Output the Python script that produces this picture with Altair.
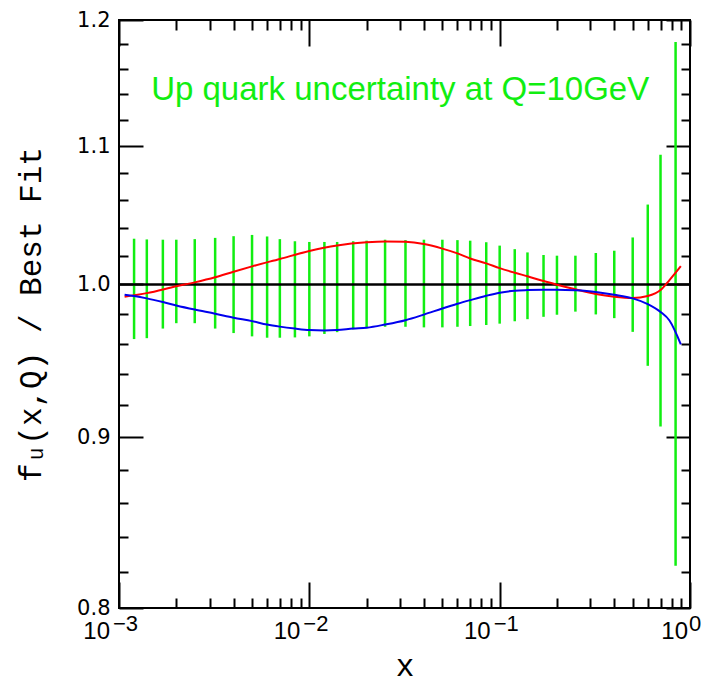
import altair as alt
import pandas as pd

# ---- data ----
bar_x = [0.0012, 0.0014, 0.0017, 0.002, 0.0025, 0.0032, 0.004, 0.005, 0.006, 0.007,
         0.0084, 0.01, 0.012, 0.014, 0.017, 0.02, 0.025, 0.032, 0.04, 0.05,
         0.06, 0.07, 0.085, 0.1, 0.12, 0.14, 0.17, 0.2, 0.25, 0.32,
         0.4, 0.5, 0.6, 0.7, 0.84]
bar_hi = [1.032, 1.0315, 1.0313, 1.0313, 1.0317, 1.0326, 1.0338, 1.0347, 1.0336, 1.0317,
          1.0302, 1.0297, 1.0297, 1.0297, 1.0302, 1.0306, 1.0313, 1.031, 1.0313, 1.0313,
          1.031, 1.0306, 1.0295, 1.0271, 1.0246, 1.0223, 1.0205, 1.020, 1.020, 1.0219,
          1.0235, 1.0329, 1.0566, 1.0935, 1.182]
bar_lo = [0.963, 0.9636, 0.970, 0.9736, 0.9736, 0.970, 0.967, 0.9648, 0.9639, 0.9639,
          0.9641, 0.9648, 0.9664, 0.9676, 0.9694, 0.9703, 0.9712, 0.9712, 0.9708, 0.9708,
          0.9712, 0.9717, 0.9724, 0.9733, 0.9749, 0.9763, 0.9779, 0.9793, 0.9814, 0.9795,
          0.977, 0.9678, 0.9454, 0.9067, 0.8236]

red_x = [0.00107, 0.0014, 0.002, 0.0025, 0.0032, 0.004, 0.005, 0.007, 0.01, 0.014,
         0.02, 0.025, 0.032, 0.04, 0.05, 0.06, 0.07, 0.085, 0.1, 0.12,
         0.14, 0.17, 0.2, 0.25, 0.32, 0.4, 0.5, 0.6, 0.7, 0.78, 0.895]
red_y = [0.9915, 0.994, 0.9987, 1.0014, 1.0049, 1.0088, 1.0125, 1.0177, 1.0233, 1.0272,
         1.0295, 1.0301, 1.0298, 1.0282, 1.0250, 1.0216, 1.018, 1.0146, 1.0113, 1.0081,
         1.0056, 1.0023, 0.9998, 0.9966, 0.9934, 0.9915, 0.9906, 0.992, 0.9961, 1.003, 1.0127]

blue_x = [0.00107, 0.0012, 0.0014, 0.0017, 0.002, 0.0025, 0.0032, 0.004, 0.005, 0.006,
          0.007, 0.0084, 0.01, 0.012, 0.014, 0.017, 0.02, 0.025, 0.032, 0.04,
          0.05, 0.06, 0.07, 0.085, 0.1, 0.12, 0.14, 0.17, 0.2, 0.25,
          0.32, 0.4, 0.5, 0.6, 0.7, 0.78, 0.895]
blue_y = [0.9929, 0.992, 0.9904, 0.9879, 0.9856, 0.9828, 0.980, 0.9773, 0.975, 0.9727,
          0.9713, 0.970, 0.969, 0.9687, 0.969, 0.970, 0.9706, 0.9727, 0.9756, 0.9794,
          0.9835, 0.9867, 0.9892, 0.9922, 0.9943, 0.9957, 0.9961, 0.9963, 0.9963, 0.9959,
          0.9948, 0.9929, 0.9904, 0.9865, 0.9812, 0.9754, 0.9595]

ref_y = [1.0]

x_major = [0.001, 0.01, 0.1, 1.0]
x_minor = [0.002, 0.003, 0.004, 0.005, 0.006, 0.007, 0.008, 0.009,
           0.02, 0.03, 0.04, 0.05, 0.06, 0.07, 0.08, 0.09,
           0.2, 0.3, 0.4, 0.5, 0.6, 0.7, 0.8, 0.9]
x_base = ["10", "10", "10", "10"]
x_exp = ["\u22123", "\u22122", "\u22121", "0"]
y_major = [0.8, 0.9, 1.0, 1.1, 1.2]
y_minor = [0.82, 0.84, 0.86, 0.88, 0.92, 0.94, 0.96, 0.98,
           1.02, 1.04, 1.06, 1.08, 1.12, 1.14, 1.16, 1.18]

note_text = ["Up quark uncertainty at Q=10GeV"]
note_x = [0.03]
note_y = [1.1434]

# ---- layout ----
W, H = 571, 588
GREEN = "#11ee11"
XMAJ, XMIN, YMAJ, YMIN = 26, 10, 24, 9
MONO = "Liberation Mono"

xs = alt.Scale(type="log", domain=[0.001, 1.0])
ys = alt.Scale(type="log", domain=[0.8, 1.2])


def ax(orient, values, size, **kw):
    return alt.Axis(orient=orient, values=values, tickSize=size, offset=-size,
                    domain=False, grid=False, ticks=True, tickColor="black",
                    tickWidth=2, **kw)


bars = pd.DataFrame({"x": bar_x, "lo": bar_lo, "hi": bar_hi})
red = pd.DataFrame({"x": red_x, "y": red_y})
blue = pd.DataFrame({"x": blue_x, "y": blue_y})
ref = pd.DataFrame({"y": ref_y})
note = pd.DataFrame({"x": note_x, "y": note_y, "t": note_text})
labs = pd.DataFrame({"v": x_major, "base": x_base, "exp": x_exp})

bar_layer = alt.Chart(bars).mark_rule(color=GREEN, strokeWidth=2.5).encode(
    x=alt.X("x:Q", scale=xs,
            axis=ax("bottom", x_major, XMAJ, labels=False, title="x",
                    titleFont=MONO, titleFontSize=31, titleFontWeight="normal",
                    titleColor="black", titleX=W / 2, titleY=(675 - 20) - (H - XMAJ),
                    titleAlign="center", titleBaseline="alphabetic")),
    y=alt.Y("lo:Q", scale=ys,
            axis=ax("left", y_major, YMAJ, labels=True, format=".1f",
                    labelFont="DejaVu Sans", labelFontSize=21, labelColor="black",
                    labelPadding=9, labelOverlap=False, labelFlush=False,
                    title="f\u1d64(x,Q) / Best Fit", titleFont=MONO, titleFontSize=31,
                    titleFontWeight="normal", titleColor="black",
                    titleAngle=270, titleX=-88 - YMAJ, titleY=H / 2,
                    titleAlign="center", titleBaseline="middle")),
    y2="hi:Q",
)

ref_layer = alt.Chart(ref).mark_rule(color="black", strokeWidth=2.5).encode(
    y=alt.Y("y:Q", scale=ys, axis=None)
)

red_layer = alt.Chart(red).mark_line(color="#ff0000", strokeWidth=2,
                                     interpolate="monotone").encode(
    x=alt.X("x:Q", scale=xs, title=None,
            axis=ax("bottom", x_minor, XMIN, labels=False)),
    y=alt.Y("y:Q", scale=ys, title=None,
            axis=ax("left", y_minor, YMIN, labels=False)),
)

blue_layer = alt.Chart(blue).mark_line(color="#0000ee", strokeWidth=2,
                                       interpolate="monotone").encode(
    x=alt.X("x:Q", scale=xs, title=None,
            axis=ax("top", x_major, XMAJ, labels=False)),
    y=alt.Y("y:Q", scale=ys, title=None,
            axis=ax("right", y_major, YMAJ, labels=False)),
)

note_layer = alt.Chart(note).mark_text(font="Liberation Sans", fontSize=33,
                                       color=GREEN, align="center",
                                       baseline="middle").encode(
    x=alt.X("x:Q", scale=xs, title=None,
            axis=ax("top", x_minor, XMIN, labels=False)),
    y=alt.Y("y:Q", scale=ys, title=None,
            axis=ax("right", y_minor, YMIN, labels=False)),
    text="t:N",
)


def tick_labels(filt, base_dx, exp_dx):
    base = alt.Chart(labs).transform_filter(filt).mark_text(
        font="Liberation Sans", fontSize=24, align="right", baseline="alphabetic",
        dx=base_dx, color="black").encode(
        x=alt.X("v:Q", scale=xs, axis=None),
        y=alt.value(H + 31),
        text="base:N",
    )
    exp = alt.Chart(labs).transform_filter(filt).mark_text(
        font="Liberation Sans", fontSize=22, align="left", baseline="alphabetic",
        dx=exp_dx, color="black").encode(
        x=alt.X("v:Q", scale=xs, axis=None),
        y=alt.value(H + 23),
        text="exp:N",
    )
    return [base, exp]


lab_layers = tick_labels("datum.v < 0.5", -9, -6) + tick_labels("datum.v >= 0.5", -2, -1)

chart = alt.layer(
    bar_layer, ref_layer, red_layer, blue_layer, note_layer, *lab_layers
).resolve_axis(x="independent", y="independent").properties(
    width=W, height=H,
    autosize=alt.AutoSizeParams(type="none"),
    padding={"left": 119, "top": 20, "right": 18, "bottom": 75},
    background="white",
).configure_view(stroke="black", strokeWidth=2)

chart.save("out.html", embed_options={"renderer": "svg", "actions": False})
